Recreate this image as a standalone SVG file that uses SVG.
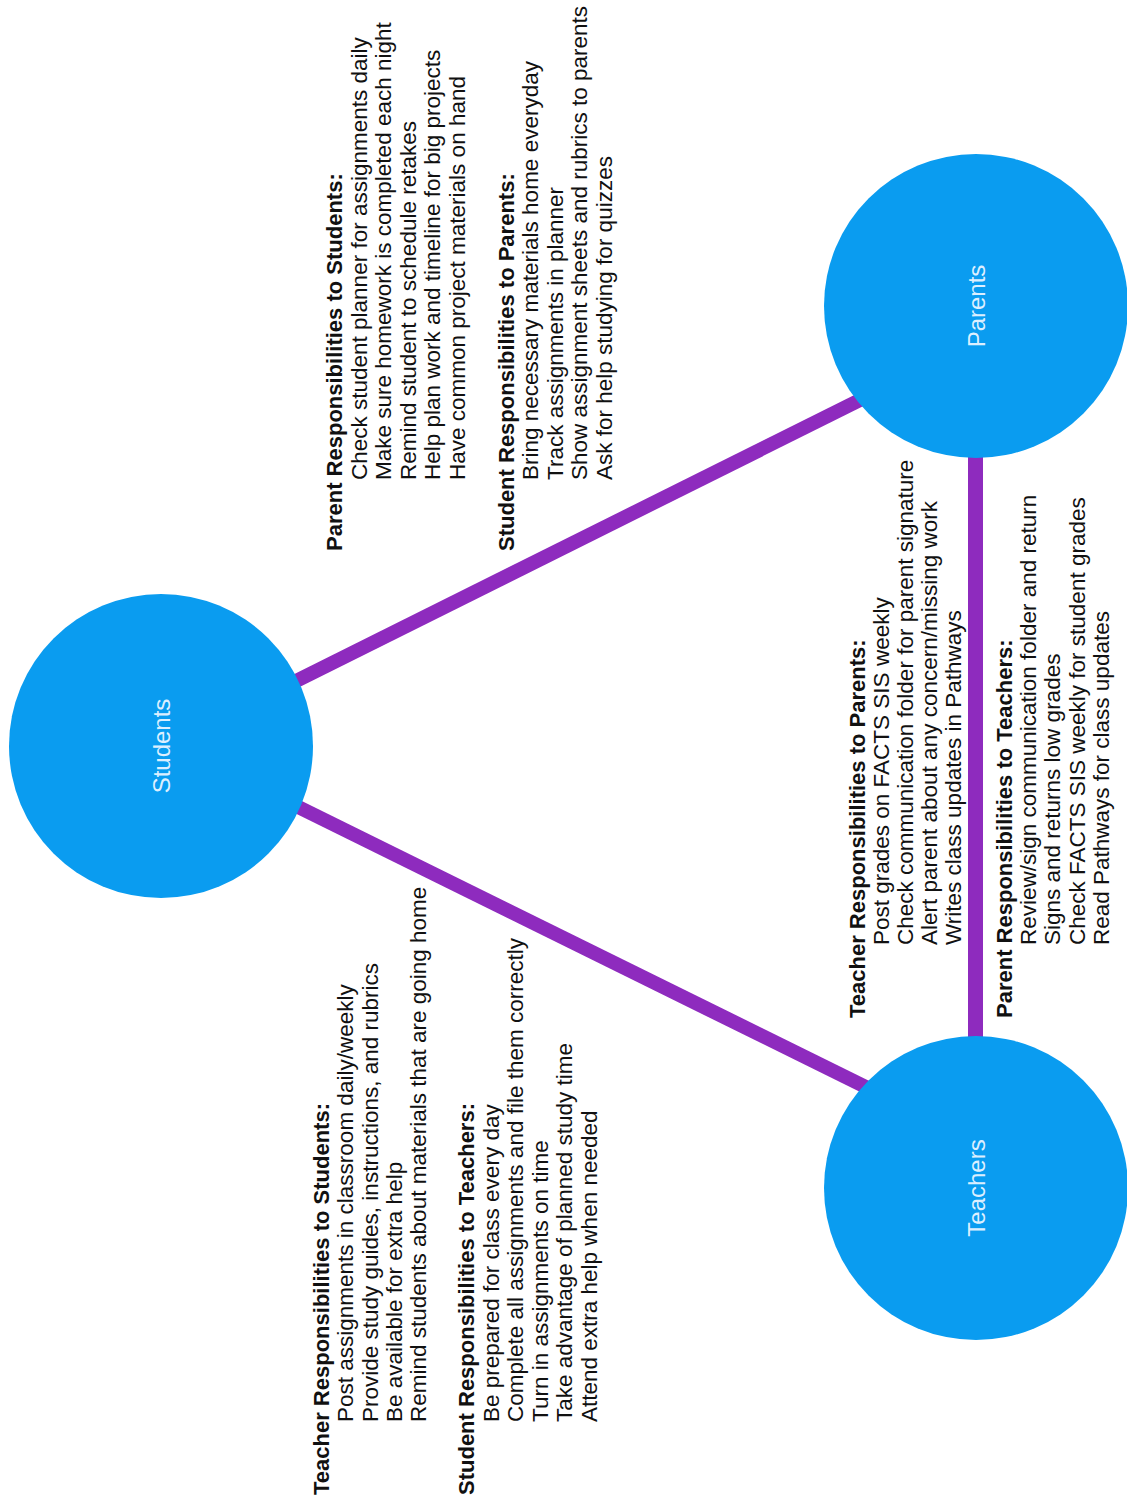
<svg xmlns="http://www.w3.org/2000/svg" width="1127" height="1500" viewBox="0 0 1127 1500">
<style>
.node{fill:#0a9cf0}
.nl{font-family:"Liberation Sans",Arial,sans-serif;font-size:24px;fill:#dcefff;text-anchor:middle}
.edge{stroke:#8e2bbe;stroke-width:14;fill:none}
.h{font-family:"Liberation Sans",Arial,sans-serif;font-size:22px;font-weight:bold;fill:#111}
.t{font-family:"Liberation Sans",Arial,sans-serif;font-size:22.5px;fill:#111}
</style>
<rect width="1127" height="1500" fill="#ffffff"/>
<g id="connectors">
<line class="edge" x1="280" y1="689" x2="880" y2="390"/>
<line class="edge" x1="280" y1="798" x2="880" y2="1094"/>
<line class="edge" x1="975.5" y1="440" x2="975.5" y2="1050" style="stroke-width:15"/>
</g>
<g id="students">
<circle class="node" cx="161" cy="746" r="152"/>
<text class="nl" transform="translate(161,746) rotate(-90)" dy="8.5">Students</text>
</g>
<g id="parents">
<circle class="node" cx="976" cy="306" r="152"/>
<text class="nl" transform="translate(976,306) rotate(-90)" dy="8.5">Parents</text>
</g>
<g id="teachers">
<circle class="node" cx="976" cy="1188" r="152"/>
<text class="nl" transform="translate(976,1188) rotate(-90)" dy="8.5">Teachers</text>
</g>
<g id="parent-to-students" transform="rotate(-90)">
<text class="h" x="-551" y="342">Parent Responsibilities to Students:</text>
<text class="t" x="-480" y="366.5">Check student planner for assignments daily</text>
<text class="t" x="-480" y="391">Make sure homework is completed each night</text>
<text class="t" x="-480" y="415.5">Remind student to schedule retakes</text>
<text class="t" x="-480" y="440">Help plan work and timeline for big projects</text>
<text class="t" x="-480" y="464.5">Have common project materials on hand</text>
</g>
<g id="student-to-parents" transform="rotate(-90)">
<text class="h" x="-551" y="513.5">Student Responsibilities to Parents:</text>
<text class="t" x="-480" y="538">Bring necessary materials home everyday</text>
<text class="t" x="-480" y="562.5">Track assignments in planner</text>
<text class="t" x="-480" y="587">Show assignment sheets and rubrics to parents</text>
<text class="t" x="-480" y="611.5">Ask for help studying for quizzes</text>
</g>
<g id="teacher-to-students" transform="rotate(-90)">
<text class="h" x="-1495" y="329">Teacher Responsibilities to Students:</text>
<text class="t" x="-1422" y="353">Post assignments in classroom daily/weekly</text>
<text class="t" x="-1422" y="377.5">Provide study guides, instructions, and rubrics</text>
<text class="t" x="-1422" y="401.5">Be available for extra help</text>
<text class="t" x="-1422" y="426">Remind students about materials that are going home</text>
</g>
<g id="student-to-teachers" transform="rotate(-90)">
<text class="h" x="-1495" y="474">Student Responsibilities to Teachers:</text>
<text class="t" x="-1422" y="498.5">Be prepared for class every day</text>
<text class="t" x="-1422" y="523">Complete all assignments and file them correctly</text>
<text class="t" x="-1422" y="547.5">Turn in assignments on time</text>
<text class="t" x="-1422" y="572">Take advantage of planned study time</text>
<text class="t" x="-1422" y="596.5">Attend extra help when needed</text>
</g>
<g id="teacher-to-parents" transform="rotate(-90)">
<text class="h" x="-1018" y="865">Teacher Responsibilities to Parents:</text>
<text class="t" x="-945" y="888.5">Post grades on FACTS SIS weekly</text>
<text class="t" x="-945" y="912.5">Check communication folder for parent signature</text>
<text class="t" x="-945" y="936.5">Alert parent about any concern/missing work</text>
<text class="t" x="-945" y="960.5">Writes class updates in Pathways</text>
</g>
<g id="parent-to-teachers" transform="rotate(-90)">
<text class="h" x="-1018" y="1012">Parent Responsibilities to Teachers:</text>
<text class="t" x="-945" y="1036">Review/sign communication folder and return</text>
<text class="t" x="-945" y="1060">Signs and returns low grades</text>
<text class="t" x="-945" y="1084.5">Check FACTS SIS weekly for student grades</text>
<text class="t" x="-945" y="1108.5">Read Pathways for class updates</text>
</g>
</svg>
